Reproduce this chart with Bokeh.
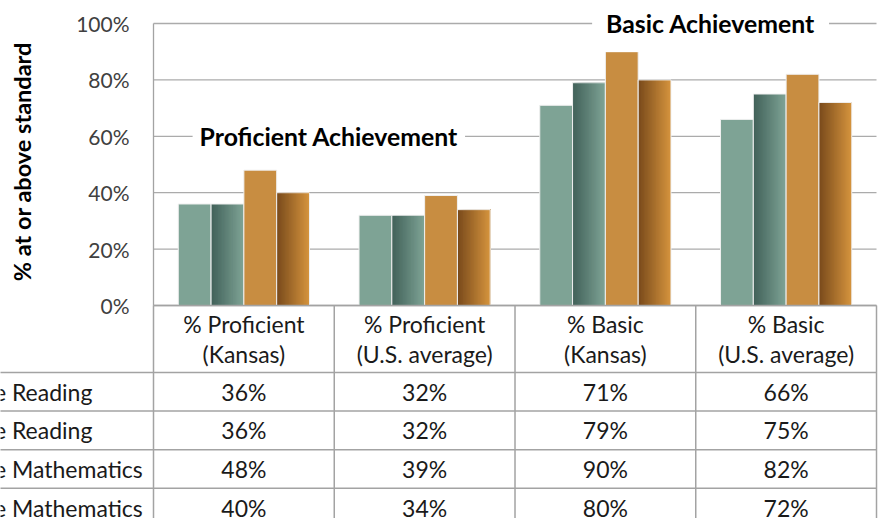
import numpy as np
from bokeh.plotting import figure
from bokeh.models import Range1d, Label, ColumnDataSource
from bokeh.embed import file_html
from bokeh.resources import INLINE
from bokeh.core.properties import value

# ---------------- data ----------------
header_line1 = ["% Proficient", "% Proficient", "% Basic", "% Basic"]
header_line2 = ["(Kansas)", "(U.S. average)", "(Kansas)", "(U.S. average)"]
series_names = ["4th Grade Reading", "8th Grade Reading", "4th Grade Mathematics", "8th Grade Mathematics"]
reading_4th = [36, 32, 71, 66]
reading_8th = [36, 32, 79, 75]
math_4th = [48, 39, 90, 82]
math_8th = [40, 34, 80, 72]
y_ticks = [0, 20, 40, 60, 80, 100]
y_tick_labels = ["0%", "20%", "40%", "60%", "80%", "100%"]
series_values = [reading_4th, reading_8th, math_4th, math_8th]

# ---------------- styles ----------------
FONT = "Lato"
GRID = "#ababab"
LINE = "#a3a3a3"
TEXT = "#1a1a1a"
TICK = "#404040"
styles = [
    ("flat", "#7ea395", None),
    ("grad", "#42625a", "#7ea395"),
    ("flat", "#c88d41", None),
    ("grad", "#7a4b1c", "#d4933d"),
]

ncat = len(header_line1)
nser = len(series_values)
xc = np.arange(ncat)
bar_w = 0.1815
offsets = (np.arange(nser) - (nser - 1) / 2) * bar_w


def hex2rgb(h):
    h = h.lstrip("#")
    return np.array([int(h[i:i + 2], 16) for i in (0, 2, 4)], dtype=float)


def rgb2hex(c):
    return "#%02x%02x%02x" % tuple(int(round(v)) for v in c)


# one frame covering the whole canvas: chart on the default y range,
# data table on its own "table" range (rows of unit height)
p = figure(width=880, height=518,
           x_range=Range1d(-1.3465, ncat - 0.5 + 0.0221),
           y_range=Range1d(-75.53, 108.16),
           output_backend="svg", toolbar_location=None, min_border=0)
p.extra_y_ranges = {"table": Range1d(start=3.782, end=-9.637)}
p.outline_line_color = None
p.background_fill_color = "white"
p.border_fill_color = "white"
p.axis.visible = False
p.grid.visible = False

x_left = -0.5
x_right = ncat - 0.5
header_h = 1.736

# ---------- chart ----------
p.segment(x0=[x_left] * len(y_ticks), y0=y_ticks, x1=[x_right] * len(y_ticks), y1=y_ticks,
          line_color=GRID, line_width=1.3)
p.segment(x0=[x_left], y0=[y_ticks[0]], x1=[x_left], y1=[y_ticks[-1]], line_color=LINE, line_width=1.3)

p.text(x=[x_left] * len(y_ticks), y=y_ticks, text=y_tick_labels, x_offset=-24,
       text_align="right", text_baseline="middle", text_font=value(FONT),
       text_font_size="21px", text_color=TICK)
p.text(x=[-1.2248], y=[51.0], text=["% at or above standard"], angle=np.pi / 2,
       text_align="center", text_baseline="middle", text_font=value(FONT),
       text_font_style="bold", text_font_size="23.5px", text_color="#000000")

for s, vals in enumerate(series_values):
    kind, c0, c1 = styles[s]
    vals = np.array(vals, dtype=float)
    lefts = xc + offsets[s] - bar_w / 2
    rights = xc + offsets[s] + bar_w / 2
    if kind == "flat":
        p.quad(left=lefts, right=rights, top=vals, bottom=0, fill_color=c0, line_color=None)
    else:
        n = 24
        a, b = hex2rgb(c0), hex2rgb(c1)
        L, R, T, C = [], [], [], []
        for k in range(n):
            col = rgb2hex(a + (b - a) * (k / (n - 1)))
            for i in range(ncat):
                L.append(lefts[i] + k * bar_w / n)
                R.append(rights[i])
                T.append(vals[i])
                C.append(col)
        src = ColumnDataSource(dict(left=L, right=R, top=T, color=C))
        p.quad(left="left", right="right", top="top", bottom=0, fill_color="color",
               line_color=None, source=src)
    p.quad(left=lefts, right=rights, top=vals, bottom=0, fill_color=None,
           line_color="#f0f0f0", line_width=1)

p.add_layout(Label(x=0.47, y=60, text="Proficient Achievement", text_align="center",
                   text_baseline="middle", text_font=FONT, text_font_style="bold",
                   text_font_size="24.8px", text_color="#000000",
                   background_fill_color="white", padding=7))
p.add_layout(Label(x=2.582, y=100, text="Basic Achievement", text_align="center",
                   text_baseline="middle", text_font=FONT, text_font_style="bold",
                   text_font_size="24.8px", text_color="#000000",
                   background_fill_color="white", padding=14))

# ---------- data table ----------
vx = list(np.arange(ncat + 1) - 0.5)
p.segment(x0=vx, y0=[-header_h] * len(vx), x1=vx, y1=[nser + 0.5] * len(vx),
          line_color=LINE, line_width=1.5, y_range_name="table")
p.segment(x0=[x_left], y0=[-header_h], x1=[x_right], y1=[-header_h],
          line_color=LINE, line_width=1.5, y_range_name="table")
ry = list(range(nser))
p.segment(x0=[-1.4] * nser, y0=ry, x1=[x_right] * nser, y1=ry,
          line_color=LINE, line_width=1.5, y_range_name="table")

p.text(x=xc, y=[-1.267] * ncat, text=header_line1, text_align="center", text_baseline="middle",
       text_font=value(FONT), text_font_size="23px", text_color=TEXT, y_range_name="table")
p.text(x=xc, y=[-0.485] * ncat, text=header_line2, text_align="center", text_baseline="middle",
       text_font=value(FONT), text_font_size="23px", text_color=TEXT, y_range_name="table")

cx, cy, ct = [], [], []
for s, vals in enumerate(series_values):
    for i in range(ncat):
        cx.append(xc[i])
        cy.append(s + 0.5)
        ct.append("%d%%" % vals[i])
p.text(x=cx, y=cy, text=ct, text_align="center", text_baseline="middle",
       text_font=value(FONT), text_font_size="23px", text_color=TEXT, y_range_name="table")

p.text(x=[x_left - 152 / 180.75] * nser, y=[s + 0.5 for s in range(nser)], text=series_names,
       text_align="left", text_baseline="middle", x_offset=-97,
       text_font=value(FONT), text_font_size="23px", text_color=TEXT, y_range_name="table")

open("out.html", "w").write(file_html(p, INLINE))
